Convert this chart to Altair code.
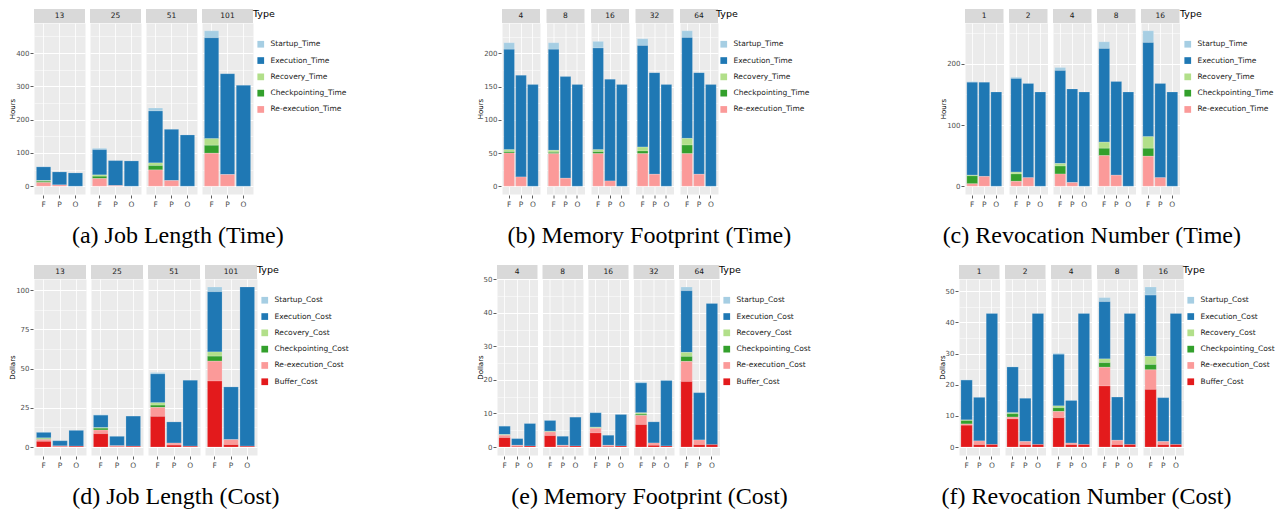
import altair as alt
import pandas as pd

SANS = "DejaVu Sans"
SERIF = "Liberation Serif"

SCHEMES = ["F", "P", "O"]
TYPES = ["Startup", "Execution", "Recovery", "Checkpointing", "Re-execution", "Buffer"]
COLORS = ["#A6CEE3", "#1F78B4", "#B2DF8A", "#33A02C", "#FB9A99", "#E31A1C"]

# values per type, ordered group by group, each group F, P, O
# (a) Job Length (Time)
a_groups = ["13", "25", "51", "101"]
a_startup = [1, 0, 0, 4, 0, 0, 9, 0, 0, 21, 0, 0]
a_execution = [41, 39, 40, 76, 75, 76, 156, 154, 154, 303, 303, 303]
a_recovery = [2, 0, 0, 4, 0, 0, 8, 0, 0, 20, 0, 0]
a_checkpointing = [4, 0, 0, 7, 0, 0, 13, 0, 0, 24, 0, 0]
a_reexecution = [11, 4, 0, 23, 2, 0, 49, 17, 0, 99, 35, 0]

# (b) Memory Footprint (Time)
b_groups = ["4", "8", "16", "32", "64"]
b_startup = [10, 0, 0, 10, 0, 0, 10, 0, 0, 10, 0, 0, 10, 0, 0]
b_execution = [151, 153, 153, 152, 153, 153, 153, 153, 153, 153, 153, 153, 152, 153, 153]
b_recovery = [3, 0, 0, 3, 0, 0, 3, 0, 0, 6, 0, 0, 10, 0, 0]
b_checkpointing = [2, 0, 0, 2, 0, 0, 3, 0, 0, 4, 0, 0, 13, 0, 0]
b_reexecution = [50, 14, 0, 49, 12, 0, 49, 8, 0, 49, 18, 0, 49, 18, 0]

# (c) Revocation Number (Time)
c_groups = ["1", "2", "4", "8", "16"]
c_startup = [1, 0, 0, 2, 0, 0, 5, 0, 0, 11, 0, 0, 19, 0, 0]
c_execution = [152, 154, 154, 153, 154, 154, 152, 153, 154, 153, 153, 154, 154, 154, 154]
c_recovery = [1, 0, 0, 3, 0, 0, 4, 0, 0, 10, 0, 0, 19, 0, 0]
c_checkpointing = [13, 0, 0, 12, 0, 0, 13, 0, 0, 12, 0, 0, 13, 0, 0]
c_reexecution = [4, 16, 0, 8, 14, 0, 20, 6, 0, 50, 18, 0, 49, 14, 0]

# (d) Job Length (Cost)
d_groups = ["13", "25", "51", "101"]
d_startup = [0.3, 0, 0, 0.3, 0, 0, 0.9, 0, 0, 3.0, 0, 0]
d_execution = [3.5, 3.3, 10.1, 8.0, 6.0, 19.2, 18.4, 13.5, 42.1, 38.4, 33.6, 101.5]
d_recovery = [0.5, 0, 0, 0.3, 0, 0, 1.5, 0, 0, 2.7, 0, 0]
d_checkpointing = [0.5, 0, 0, 1.2, 0, 0, 1.5, 0, 0, 3.2, 0, 0]
d_reexecution = [1.2, 0.4, 0, 2.3, 0.5, 0, 5.7, 1.3, 0, 12.7, 3.2, 0]
d_buffer = [3.6, 0.3, 0.5, 8.5, 0.3, 0.5, 19.5, 1.2, 0.5, 42.0, 1.5, 0.5]

# (e) Memory Footprint (Cost)
e_groups = ["4", "8", "16", "32", "64"]
e_startup = [0.1, 0, 0, 0.1, 0, 0, 0.1, 0, 0, 0.3, 0, 0, 1.1, 0, 0]
e_execution = [2.5, 2.0, 6.7, 3.2, 2.7, 8.6, 4.3, 3.0, 9.4, 8.9, 6.3, 19.5, 18.4, 14.1, 42.1]
e_recovery = [0.1, 0, 0, 0.1, 0, 0, 0.2, 0, 0, 0.4, 0, 0, 1.2, 0, 0]
e_checkpointing = [0.1, 0, 0, 0.1, 0, 0, 0.1, 0, 0, 0.4, 0, 0, 1.5, 0, 0]
e_reexecution = [0.7, 0.3, 0, 1.1, 0.3, 0, 1.4, 0.3, 0, 2.7, 0.7, 0, 6.0, 1.4, 0]
e_buffer = [2.8, 0.2, 0.3, 3.4, 0.2, 0.3, 4.2, 0.2, 0.3, 6.7, 0.5, 0.3, 19.5, 0.7, 0.7]

# (f) Revocation Number (Cost)
f_groups = ["1", "2", "4", "8", "16"]
f_startup = [0.1, 0, 0, 0.1, 0, 0, 0.3, 0, 0, 1.3, 0, 0, 2.6, 0, 0]
f_execution = [12.8, 14.0, 42.1, 14.7, 13.9, 42.1, 16.6, 13.7, 42.1, 18.4, 13.9, 42.1, 19.7, 14.1, 42.1]
f_recovery = [0.2, 0, 0, 0.3, 0, 0, 0.6, 0, 0, 1.2, 0, 0, 2.6, 0, 0]
f_checkpointing = [1.1, 0, 0, 1.1, 0, 0, 1.2, 0, 0, 1.5, 0, 0, 1.7, 0, 0]
f_reexecution = [0.4, 1.2, 0, 0.6, 1.0, 0, 2.0, 0.5, 0, 6.0, 1.4, 0, 6.3, 1.0, 0]
f_buffer = [7.0, 0.75, 0.8, 9.0, 0.75, 0.8, 9.4, 0.75, 0.8, 19.6, 0.75, 0.8, 18.5, 0.75, 0.8]

STRIP = 14


def make_df(groups, series, suffix):
    rows = []
    n = len(series)
    for idx, vals in enumerate(series):
        tname = TYPES[idx] + suffix
        for gi, g in enumerate(groups):
            for si, s in enumerate(SCHEMES):
                v = vals[gi * 3 + si]
                if v > 0:
                    rows.append({"Group": g, "Scheme": s, "Type": tname,
                                 "Value": v, "stk": n - 1 - idx})
    return pd.DataFrame(rows)


def panel(groups, series, suffix, ytitle, step, W, H, sp, caption, dx, legx):
    df = make_df(groups, series, suffix)
    n = len(series)
    dom = [TYPES[i] + suffix for i in range(n)]
    top = float(df.groupby(["Group", "Scheme"])["Value"].sum().max())
    lo, hi = -0.05 * top, 1.05 * top
    half = step / 2.0
    vals = []
    k = 0
    while k * half <= hi:
        vals.append(k * half)
        k += 1
    major = f"abs(datum.value/{step} - round(datum.value/{step})) < 0.001"
    yaxis = alt.Axis(
        title=ytitle, values=vals,
        labelExpr=f"({major}) ? format(datum.value, ',.0f') : ''",
        grid=True, gridColor="white",
        gridWidth={"condition": {"test": major, "value": 1.0}, "value": 0.5},
        tickColor={"condition": {"test": major, "value": "#333333"}, "value": "rgba(0,0,0,0)"},
        tickSize=3, tickWidth=0.8, domain=False,
        labelFontSize=7, labelColor="#4D4D4D", labelPadding=1, labelFont=SANS,
        titleFontSize=7, titleColor="black", titleFontWeight="normal", titlePadding=0,
        titleFont=SANS,
    )
    xaxis = alt.Axis(
        title=None, labelAngle=0, bandPosition=0.5, grid=True, gridColor="white",
        gridWidth=0.8, tickColor="#333333", tickSize=3, tickWidth=0.8, domain=False,
        labelFontSize=7.5, labelColor="#4D4D4D", labelPadding=2, labelFont=SANS,
    )
    leg = alt.Legend(
        title="Type", orient="none", legendX=legx, legendY=-STRIP,
        titleFontSize=9.5, titleFont=SANS, titleFontWeight="normal", titleColor="black",
        titlePadding=22, labelFontSize=7.5, labelFont=SANS, labelColor="#1A1A1A",
        symbolType="square", symbolSize=45, symbolStrokeWidth=0, rowPadding=7.3,
        labelOffset=6, symbolOffset=4,
    )
    bars = alt.Chart().mark_bar(stroke="white", strokeWidth=0.3, strokeOpacity=0.6).encode(
        x=alt.X("Scheme:N", sort=SCHEMES,
                scale=alt.Scale(paddingInner=0.1, paddingOuter=0.15), axis=xaxis),
        y=alt.Y("Value:Q", stack="zero",
                scale=alt.Scale(domain=[lo, hi], nice=False, zero=False), axis=yaxis),
        color=alt.Color("Type:N", scale=alt.Scale(domain=dom, range=COLORS[:n]), legend=leg),
        order=alt.Order("stk:Q", sort="ascending"),
    )
    one = f"datum.Scheme == 'F' && datum.Type == '{dom[1]}'"
    strip = alt.Chart().mark_rect(color="#D9D9D9").encode(
        x=alt.value(0), x2=alt.value(W), y=alt.value(-STRIP), y2=alt.value(0)
    ).transform_filter(one)
    lab = alt.Chart().mark_text(fontSize=7.5, color="#1A1A1A", font=SANS,
                                baseline="middle", align="center").encode(
        text="Group:N", x=alt.value(W / 2.0), y=alt.value(-STRIP / 2.0)
    ).transform_filter(one)
    layer = alt.layer(bars, strip, lab, data=df).properties(width=W, height=H)
    fac = layer.facet(
        column=alt.Column("Group:N", sort=groups, header=alt.Header(title=None, labels=False)),
        spacing=sp,
    )
    return fac.properties(title=alt.TitleParams(
        caption, orient="bottom", anchor="middle", font=SERIF, fontSize=24,
        fontWeight="normal", color="black", offset=16, dx=dx))


H1 = 171
H2 = 176

pa = panel(a_groups, [a_startup, a_execution, a_recovery, a_checkpointing, a_reexecution],
           "_Time", "Hours", 100, 51, H1, 3, "(a) Job Length (Time)", 0, 219)
pb = panel(b_groups, [b_startup, b_execution, b_recovery, b_checkpointing, b_reexecution],
           "_Time", "Hours", 50, 38, H1, 4.5, "(b) Memory Footprint (Time)", 6, 214)
pc = panel(c_groups, [c_startup, c_execution, c_recovery, c_checkpointing, c_reexecution],
           "_Time", "Hours", 100, 38.5, H1, 4, "(c) Revocation Number (Time)", -15, 215)
pd_ = panel(d_groups, [d_startup, d_execution, d_recovery, d_checkpointing, d_reexecution, d_buffer],
            "_Cost", "Dollars", 25, 52, H2, 3, "(d) Job Length (Cost)", -3, 223)
pe = panel(e_groups, [e_startup, e_execution, e_recovery, e_checkpointing, e_reexecution, e_buffer],
           "_Cost", "Dollars", 10, 40.5, H2, 3.5, "(e) Memory Footprint (Cost)", 6, 222)
pf = panel(f_groups, [f_startup, f_execution, f_recovery, f_checkpointing, f_reexecution, f_buffer],
           "_Cost", "Dollars", 10, 40.5, H2, 4, "(f) Revocation Number (Cost)", -20, 224)

row1 = alt.hconcat(pa, pb, pc, spacing=129).resolve_scale(color="independent")
row2 = alt.hconcat(pd_, pe, pf, spacing=127).resolve_scale(color="independent")

chart = alt.vconcat(row1, row2, spacing=16).resolve_scale(color="independent").properties(
    padding=0, background="white"
).configure_view(fill="#EBEBEB", stroke="transparent")

chart.save("out.html", embed_options={"renderer": "svg", "actions": False})
